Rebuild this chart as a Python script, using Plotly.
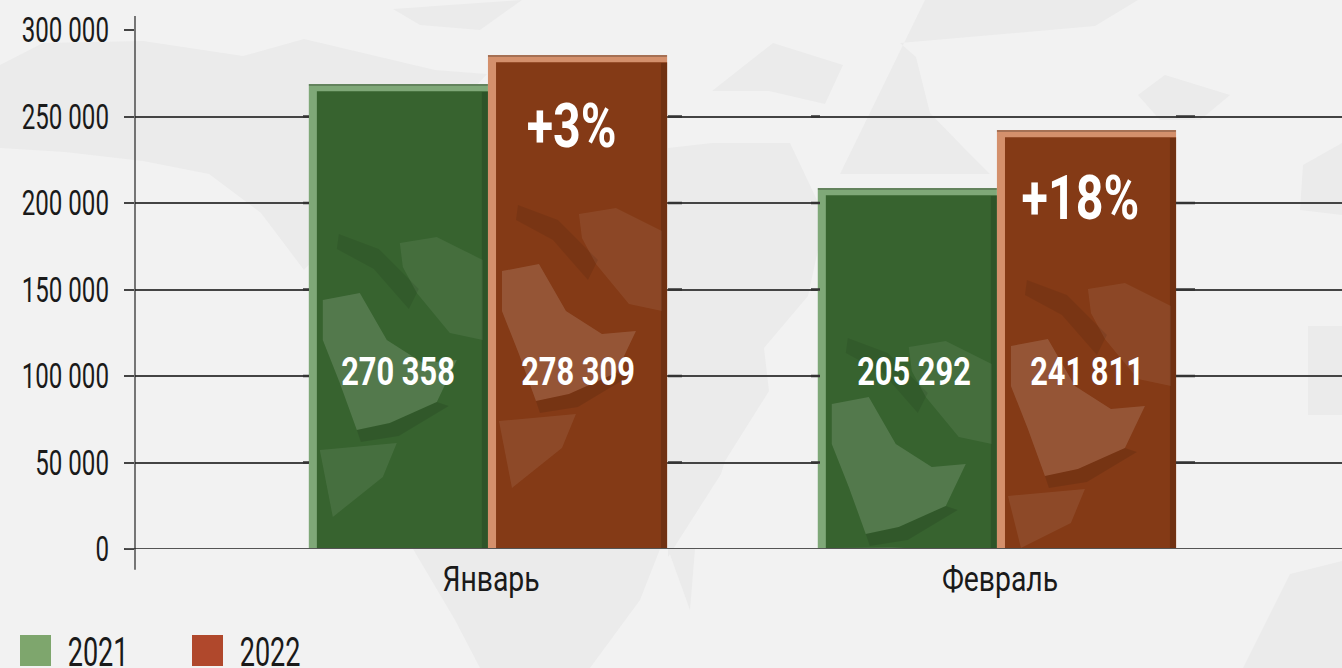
import plotly.graph_objects as go

months = ["Январь", "Февраль"]
years = ["2021", "2022"]
bar_2021 = [268800, 208700]
bar_2022 = [285500, 242200]
label_2021 = ["270 358", "205 292"]
label_2022 = ["278 309", "241 811"]
growth = ["+3%", "+18%"]
y_ticks = [0, 50000, 100000, 150000, 200000, 250000, 300000]
y_tick_labels = ["0", "50 000", "100 000", "150 000", "200 000", "250 000", "300 000"]
FONT = "Roboto"
W, H = 1342, 668
L, T, PW, PH = 135, 30, 1207, 519
XMIN, XMAX = -0.6935, 1.678

def px(x): return (x - L) / PW
def py(y): return (T + PH - y) / PH

fig = go.Figure()
bw = 0.352

# decorative world-map background (pixel outline, not data)
MAP = [
    [(0,65),(43,43),(143,41),(243,56),(304,39),(435,70),(487,74),(304,270),(261,213),(209,174),(143,161),(65,152),(0,148)],
    [(393,9),(522,0),(480,30),(420,25)],
    [(413,549),(660,549),(640,600),(590,668),(480,668),(455,620)],
    [(925,0),(1138,0),(1095,26),(900,43),(916,57),(930,113),(964,148),(990,174),(840,174)],
    [(712,143),(790,143),(825,217),(808,296),(764,348),(769,391),(725,461),(721,474),(668,557),(668,148)],
    [(712,91),(773,43),(843,65),(825,104),(769,91)],
    [(1138,95),(1165,75),(1230,95),(1200,120),(1160,120)],
    [(1243,668),(1290,574),(1342,561),(1342,668)],
    [(1303,165),(1342,143),(1342,215),(1300,210)],
    [(1308,326),(1342,326),(1342,415),(1308,415)],
    [(668,549),(695,549),(690,610)],
]
def path(pts):
    return "M" + "L".join(f"{x},{y}" for x, y in pts) + "Z"
for poly in MAP:
    fig.add_shape(type="path", xref="paper", yref="paper", layer="below", line_width=0, fillcolor="#ebebeb",
                  path=path([(px(x), py(y)) for x, y in poly]))

series = [
    (bar_2021, -bw, "#7fa878", "#37632f", years[0], label_2021),
    (bar_2022, 0, "#d4906c", "#843a16", years[1], label_2022),
]
for vals, off, edge, fill, name, lab in series:
    fig.add_bar(x=[0, 1], y=vals, width=bw, offset=off, marker=dict(color=edge, line_width=0),
                name=name, hoverinfo="skip", showlegend=False)
    fig.add_bar(x=[0, 1], y=[v - 4200 for v in vals], width=bw * 0.955, offset=off + bw * 0.045,
                marker=dict(color=fill, line_width=0), hoverinfo="skip", showlegend=False)

# bar texture: relief outline relative to each bar's top-left corner, in pixels
TEX = [
    ("rgba(255,255,255,0.14)", [(14,216),(51,209),(78,256),(114,279),(148,276),(128,318),(81,339),(48,346),(31,299),(14,256)]),
    ("rgba(255,255,255,0.07)", [(91,159),(128,153),(174,176),(174,256),(141,249),(108,209),(94,183)]),
    ("rgba(255,255,255,0.08)", [(11,366),(88,359),(74,393),(24,433)]),
    ("rgba(0,0,0,0.10)", [(48,346),(81,339),(128,318),(140,322),(90,352),(52,358)]),
    ("rgba(0,0,0,0.08)", [(30,150),(70,165),(110,205),(100,225),(65,185),(28,165)]),
    ("rgba(0,0,0,0.15)", [(173,8),(179,8),(179,600),(173,600)]),
    ("rgba(0,0,0,0.22)", [(0,0),(179,0),(179,2),(0,2)]),
]
sx = PW / (XMAX - XMIN)
for vals, off, *_ in series:
    for i, v in enumerate(vals):
        x0 = L + (i + off - XMIN) * sx
        h = v / 300000 * PH
        top = T + PH - h
        for col, pts in TEX:
            p = [(px(x0 + a), py(top + min(b, h - 1))) for a, b in pts]
            fig.add_shape(type="path", xref="paper", yref="paper", layer="above", line_width=0,
                          fillcolor=col, path=path(p))

# short dark stubs on gridlines beside the bars
for v in y_ticks[1:-1]:
    for xa, xb in [(303, 309), (668, 682), (811, 820), (1176, 1195)]:
        fig.add_shape(type="line", xref="paper", yref="y", x0=px(xa), x1=px(xb), y0=v, y1=v, layer="above",
                      line=dict(color="#333333", width=2.5))

fig.add_shape(type="line", xref="paper", yref="y", x0=-0.008, x1=1, y0=0, y1=0, layer="above",
              line=dict(color="#555555", width=2))

label_shift = {(0, 1): 0.0137}
for s, (vals, off, edge, fill, name, lab) in enumerate(series):
    for i, t in enumerate(lab):
        fig.add_annotation(x=i + off + bw / 2 + label_shift.get((s, i), 0), y=102500, text=f"<b>{t}</b>",
                           showarrow=False, font=dict(family=FONT, size=39, color="white"))
for i, t in enumerate(growth):
    fig.add_annotation(x=i + bw / 2 - 0.011, y=[245000, 203000][i], text=f"<b>{t}</b>", showarrow=False,
                       font=dict(family=FONT, size=62, color="white"))

for x, c, t in [(20, "#7ea66d", years[0]), (192, "#b0482c", years[1])]:
    fig.add_shape(type="rect", xref="paper", yref="paper", x0=px(x), x1=px(x + 31),
                  y0=py(666), y1=py(635), fillcolor=c, line_width=0)
    fig.add_annotation(xref="paper", yref="paper", x=px(x + 30), y=py(652), text=t, showarrow=False,
                       xanchor="left", yanchor="middle", font=dict(family=FONT, size=41, color="#1a1a1a"))

fig.update_layout(
    width=W, height=H, margin=dict(l=L, r=0, t=T, b=H - T - PH, autoexpand=False),
    paper_bgcolor="#f2f2f2", plot_bgcolor="rgba(0,0,0,0)", barmode="overlay", showlegend=False,
    font=dict(family=FONT, color="#1a1a1a", size=35),
    xaxis=dict(type="linear", range=[XMIN, XMAX], tickvals=[0.006, 1.006], ticktext=months,
               showgrid=False, zeroline=False, showline=False, ticks="", ticklabelstandoff=6,
               tickfont=dict(size=35)),
    yaxis=dict(range=[0, 300000], tickvals=y_ticks, ticktext=y_tick_labels, showgrid=True,
               gridcolor="#444444", gridwidth=1.5, zeroline=False, showline=False,
               ticks="outside", ticklen=10, tickcolor="#444444", tickwidth=1.5, ticklabelstandoff=8,
               tickfont=dict(size=35)),
)
fig.add_shape(type="line", xref="paper", yref="paper", x0=0, x1=0, y0=-0.04, y1=1.027,
              line=dict(color="#222222", width=1.2))

# the reference face is a narrow condensed one: squeeze real text horizontally around its anchor
POST = r"""
document.body.style.margin='0';
document.documentElement.style.overflow='hidden';
document.querySelectorAll('svg text').forEach(function(t){
  var s = 0.69;
  var c = t.textContent;
  if (c==='2021'||c==='2022') s = 0.66;
  if (/^[+]/.test(c)) s = 0.78;
  if (/^\d\d\d\s\d\d\d$/.test(c) && t.closest('.annotation')) s = 0.79;
  if (/[а-я]/i.test(c)) s = 0.81;
  var x = parseFloat(t.getAttribute('x')||0);
  var old = t.getAttribute('transform')||'';
  t.setAttribute('transform', old+' translate('+x+',0) scale('+s+',1) translate('+(-x)+',0)');
});
"""
fig.write_html("out.html", post_script=POST, config=dict(displayModeBar=False))
